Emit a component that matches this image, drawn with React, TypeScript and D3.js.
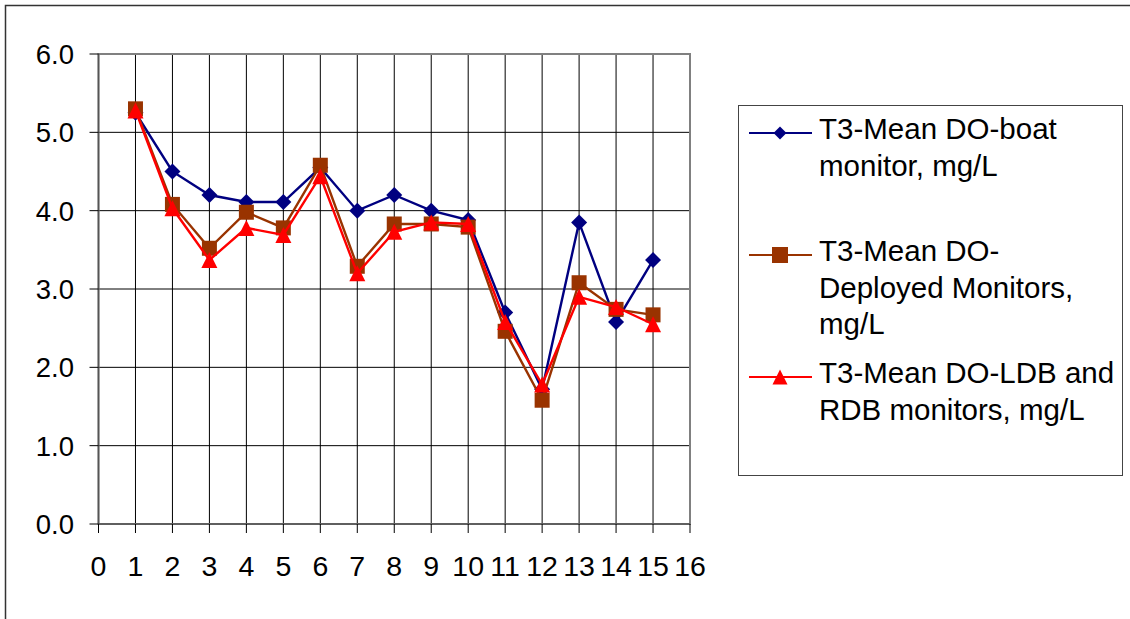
import React from "react";
import * as d3 from "d3";

// categories (x positions of the points)
const stations = [1, 2, 3, 4, 5, 6, 7, 8, 9, 10, 11, 12, 13, 14, 15];

// series values, mg/L
const boatDO = [5.25, 4.5, 4.2, 4.11, 4.11, 4.55, 4.0, 4.2, 4.0, 3.88, 2.7, 1.72, 3.85, 2.58, 3.37];
const deployedDO = [5.3, 4.08, 3.52, 3.98, 3.78, 4.58, 3.29, 3.83, 3.83, 3.79, 2.46, 1.58, 3.08, 2.74, 2.67];
const ldbRdbDO = [5.28, 4.03, 3.37, 3.78, 3.69, 4.44, 3.2, 3.73, 3.85, 3.83, 2.58, 1.78, 2.9, 2.77, 2.55];

// tick labels
const xTicks = d3.range(0, 17);
const yTicks = [0, 1, 2, 3, 4, 5, 6];

const seriesNames = [
  ["T3-Mean DO-boat", "monitor, mg/L"],
  ["T3-Mean DO-", "Deployed Monitors,", "mg/L"],
  ["T3-Mean DO-LDB and", "RDB monitors, mg/L"],
];

const W = 1130;
const H = 619;
const FONT = "'Liberation Sans', Arial, sans-serif";

type Shape = "diamond" | "square" | "triangle";

const markerPath = (shape: Shape, s: number) => {
  const h = s / 2;
  if (shape === "diamond") return `M0,${-h}L${h},0L0,${h}L${-h},0Z`;
  if (shape === "square") return `M${-h},${-h}H${h}V${h}H${-h}Z`;
  return `M0,${-h}L${h},${h}L${-h},${h}Z`;
};

const series = [
  { values: boatDO, color: "#000080", shape: "diamond" as Shape, size: 16, legendSize: 13 },
  { values: deployedDO, color: "#993300", shape: "square" as Shape, size: 15, legendSize: 16 },
  { values: ldbRdbDO, color: "#FF0000", shape: "triangle" as Shape, size: 16, legendSize: 15 },
];

export default function App() {
  const x = d3.scaleLinear().domain([0, 16]).range([98.5, 690]);
  const y = d3.scaleLinear().domain([0, 6]).range([524, 54]);

  const line = d3
    .line<number>()
    .x((_, i) => x(stations[i]))
    .y((d) => y(d));

  const legendX = 738;
  const legendY = 105;
  const legendEntryY = [133, 255, 377];

  return (
    <svg
      width={W}
      height={H}
      style={{ position: "absolute", left: 0, top: 0, background: "#fff" }}
      fontFamily={FONT}
    >
      {/* outer chart frame */}
      <rect x={5.5} y={5.5} width={W + 10} height={H + 10} fill="#fff" stroke="#333" strokeWidth={1.5} />

      {/* gridlines */}
      {xTicks.slice(1, -1).map((t) => (
        <line key={"gx" + t} x1={x(t)} x2={x(t)} y1={y(6)} y2={y(0)} stroke="#000" strokeWidth={1} />
      ))}
      {yTicks.slice(1, -1).map((t) => (
        <line key={"gy" + t} x1={x(0)} x2={x(16)} y1={y(t)} y2={y(t)} stroke="#000" strokeWidth={1} />
      ))}

      {/* plot area border */}
      <rect
        x={x(0)}
        y={y(6)}
        width={x(16) - x(0)}
        height={y(0) - y(6)}
        fill="none"
        stroke="#808080"
        strokeWidth={2}
      />
      {/* axes */}
      <line x1={x(0)} x2={x(0)} y1={y(6)} y2={y(0)} stroke="#555" strokeWidth={1.5} />
      <line x1={x(0)} x2={x(16)} y1={y(0)} y2={y(0)} stroke="#555" strokeWidth={1.5} />

      {/* y axis ticks + labels */}
      {yTicks.map((t) => (
        <g key={"yt" + t}>
          <line x1={x(0) - 9} x2={x(0)} y1={y(t)} y2={y(t)} stroke="#000" strokeWidth={1} />
          <text x={74} y={y(t)} dy="0.36em" textAnchor="end" fontSize={27.5} fill="#000">
            {d3.format(".1f")(t)}
          </text>
        </g>
      ))}

      {/* x axis ticks + labels */}
      {xTicks.map((t) => (
        <g key={"xt" + t}>
          <line x1={x(t)} x2={x(t)} y1={y(0)} y2={y(0) + 9} stroke="#000" strokeWidth={1} />
          <text x={x(t)} y={576} textAnchor="middle" fontSize={28.5} fill="#000">
            {t}
          </text>
        </g>
      ))}

      {/* series */}
      {series.map((s, si) => (
        <g key={"s" + si}>
          <path d={line(s.values) ?? ""} fill="none" stroke={s.color} strokeWidth={2.4} />
          {s.values.map((v, i) => (
            <path
              key={i}
              transform={`translate(${x(stations[i])},${y(v)})`}
              d={markerPath(s.shape, s.size)}
              fill={s.color}
            />
          ))}
        </g>
      ))}

      {/* legend */}
      <rect
        x={legendX + 0.5}
        y={legendY + 0.5}
        width={1122 - legendX}
        height={475 - legendY}
        fill="#fff"
        stroke="#444"
        strokeWidth={1}
      />
      {series.map((s, si) => {
        const cy = legendEntryY[si];
        return (
          <g key={"lg" + si}>
            <line x1={749} x2={812} y1={cy} y2={cy} stroke={s.color} strokeWidth={2} />
            <path transform={`translate(780,${cy})`} d={markerPath(s.shape, s.legendSize)} fill={s.color} />
            {seriesNames[si].map((ln, li) => (
              <text key={li} x={819} y={cy + 6 + li * 36.7} fontSize={29.5} fill="#000">
                {ln}
              </text>
            ))}
          </g>
        );
      })}
    </svg>
  );
}
